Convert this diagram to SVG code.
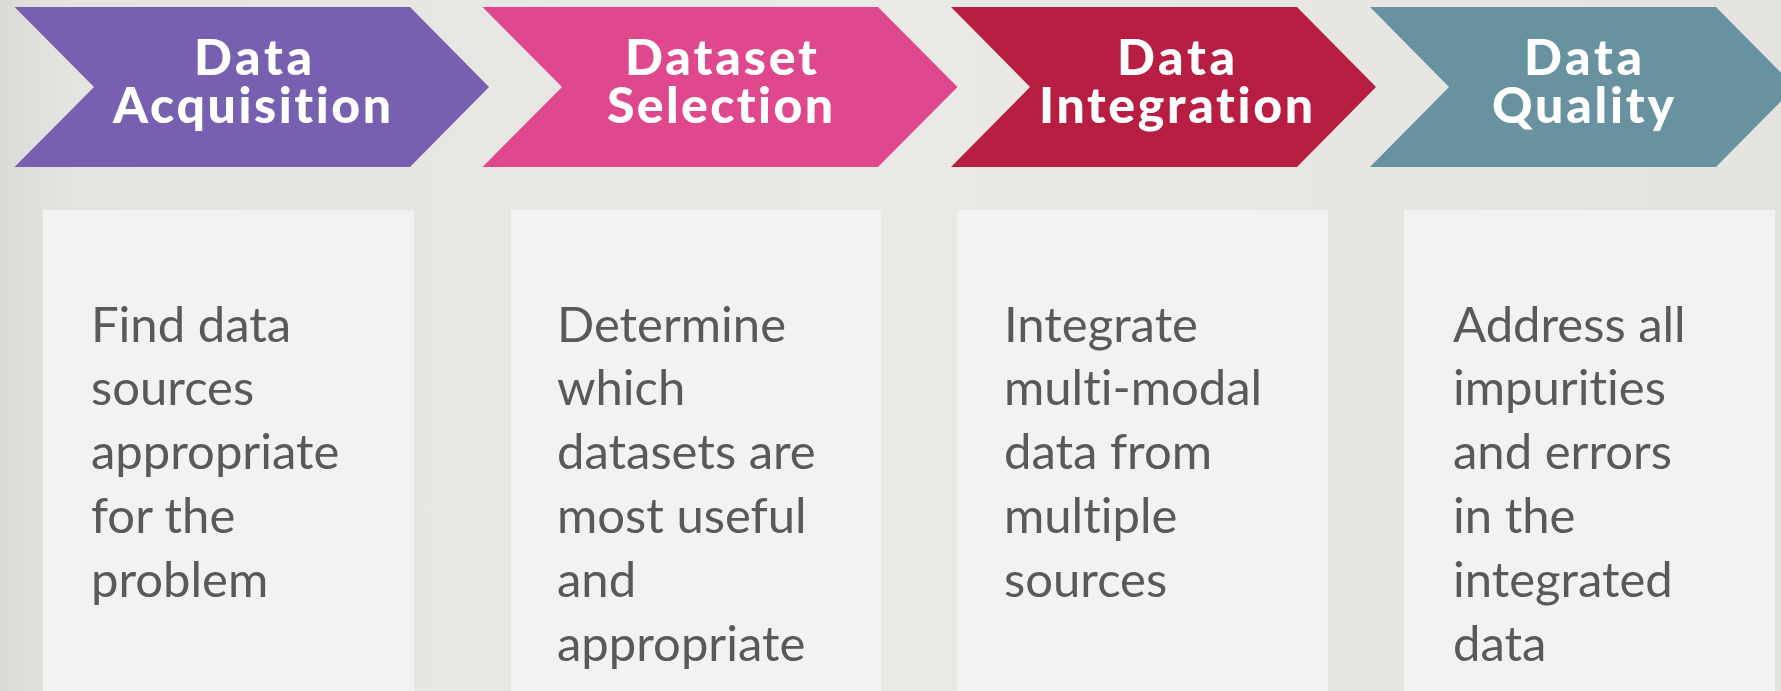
<svg xmlns="http://www.w3.org/2000/svg" width="1781" height="691" viewBox="0 0 1781 691">
<defs>
<linearGradient id="bg" x1="0" y1="0" x2="1" y2="0">
<stop offset="0" stop-color="#DCDAD6"/>
<stop offset="0.04" stop-color="#E6E4E0"/>
<stop offset="0.5" stop-color="#EBE9E5"/>
<stop offset="1" stop-color="#E5E3DF"/>
</linearGradient>
<style>
.title{font-family:Lato,"Open Sans","Liberation Sans",sans-serif;font-weight:900;font-size:50px;fill:#FFFFFF;text-anchor:middle;font-variant-ligatures:none}
.body{font-family:Lato,"Open Sans","Liberation Sans",sans-serif;font-size:49px;fill:#595959;font-variant-ligatures:none}
.box{fill:#F2F2F2}
</style>
</defs>
<rect x="0" y="0" width="1781" height="691" fill="url(#bg)"/>
<g id="connectors"></g>
<g id="step1">
<path d="M14.5,7 H410 L489,87 L410,167 H14.5 L94,87 Z" fill="#7860B0"/>
<text class="title" x="253" y="75" textLength="118" lengthAdjust="spacing">Data</text>
<text class="title" x="252" y="123" textLength="278" lengthAdjust="spacing">Acquisition</text>
</g>
<g id="step2">
<path d="M482.5,7 H878 L957.5,87 L878,167 H482.5 L562,87 Z" fill="#DF488C"/>
<text class="title" x="721" y="75" textLength="192" lengthAdjust="spacing">Dataset</text>
<text class="title" x="720" y="123" textLength="226" lengthAdjust="spacing">Selection</text>
</g>
<g id="step3">
<path d="M951,7 H1297 L1376,87 L1297,167 H951 L1030,87 Z" fill="#B81E42"/>
<text class="title" x="1176" y="75" textLength="118" lengthAdjust="spacing">Data</text>
<text class="title" x="1176" y="123" textLength="274" lengthAdjust="spacing">Integration</text>
</g>
<g id="step4">
<path d="M1370,7 H1716 L1795,87 L1716,167 H1370 L1449,87 Z" fill="#6892A0"/>
<text class="title" x="1583" y="75" textLength="118" lengthAdjust="spacing">Data</text>
<text class="title" x="1583" y="123" textLength="182" lengthAdjust="spacing">Quality</text>
</g>
<g id="desc1">
<rect class="box" x="43" y="210" width="371" height="481"/>
<text class="body" x="91"><tspan x="91" y="342">Find data</tspan><tspan x="91" y="405">sources</tspan><tspan x="91" y="469">appropriate</tspan><tspan x="91" y="533">for the</tspan><tspan x="91" y="597">problem</tspan></text>
</g>
<g id="desc2">
<rect class="box" x="511" y="210" width="370" height="481"/>
<text class="body" x="557"><tspan x="557" y="342">Determine</tspan><tspan x="557" y="405">which</tspan><tspan x="557" y="469">datasets are</tspan><tspan x="557" y="533">most useful</tspan><tspan x="557" y="597">and</tspan><tspan x="557" y="661">appropriate</tspan></text>
</g>
<g id="desc3">
<rect class="box" x="957" y="210" width="371" height="481"/>
<text class="body" x="1004"><tspan x="1004" y="342">Integrate</tspan><tspan x="1004" y="405">multi-modal</tspan><tspan x="1004" y="469">data from</tspan><tspan x="1004" y="533">multiple</tspan><tspan x="1004" y="597">sources</tspan></text>
</g>
<g id="desc4">
<rect class="box" x="1404" y="210" width="371" height="481"/>
<text class="body" x="1453"><tspan x="1453" y="342">Address all</tspan><tspan x="1453" y="405">impurities</tspan><tspan x="1453" y="469">and errors</tspan><tspan x="1453" y="533">in the</tspan><tspan x="1453" y="597">integrated</tspan><tspan x="1453" y="661">data</tspan></text>
</g>
</svg>
